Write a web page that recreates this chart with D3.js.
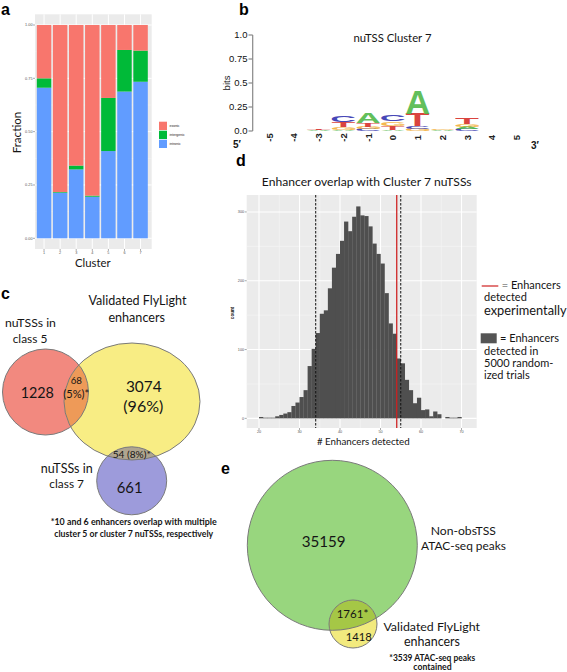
<!DOCTYPE html>
<html><head><meta charset="utf-8">
<script src="https://cdn.jsdelivr.net/npm/d3@7"></script>
<style>body{margin:0;background:#fff}svg{display:block}</style>
</head><body>
<svg id="fig" width="567" height="672"></svg>
<script>
// ---------------- DATA ----------------
// Panel a: genomic region fractions per cluster
const clusters = ["1","2","3","4","5","6","7"];
const regionNames = ["exonic","intergenic","intronic"];
const intronicFrac  = [0.706,0.214,0.323,0.195,0.409,0.688,0.734];
const intergenicFrac= [0.044,0.003,0.018,0.005,0.249,0.195,0.146];
const exonicFrac    = [0.250,0.783,0.659,0.800,0.342,0.117,0.120];
const fracTicks = [0,0.25,0.5,0.75,1];
const fracTickLabels = ["0.00","0.25","0.50","0.75","1.00"];

// Panel b: sequence logo (bits per base per position)
const logoPositions = [-5,-4,-3,-2,-1,0,1,2,3,4,5];
const logoA = [0,0,0.005,0.015,0.110,0.015,0.245,0.005,0.025,0,0];
const logoC = [0,0,0.005,0.070,0.020,0.070,0.030,0.004,0.020,0,0];
const logoG = [0,0,0.005,0.025,0.020,0.045,0.020,0.010,0.025,0,0];
const logoT = [0,0,0.012,0.055,0.040,0.040,0.130,0.005,0.070,0,0];
const bitsTicks = [0,0.25,0.5,0.75,1];
const bitsTickLabels = ["0.0","0.25","0.5","0.75","1.0"];

// Panel d: histogram of enhancers detected in 5000 randomized trials
const histBinStart = d3.range(20,71);
const histCounts = [2,1,1,1,3,5,7,9,18,23,31,41,76,101,124,152,157,189,219,239,258,286,272,293,308,295,294,279,254,239,225,182,138,123,87,80,56,41,22,30,12,13,3,10,6,0,2,1,1,2,0];
const observedEnhancers = 54;
const ciBounds = [34,55];
const histXTicks = [20,30,40,50,60,70];
const histYTicks = [0,100,200,300];

// Panel c: Venn counts
const vennCLabels = ["1228","68","(5%)*","3074","(96%)","54 (8%)*","661"];
// Panel e: Venn counts
const vennELabels = ["35159","1761*","1418"];

// ---------------- HELPERS ----------------
const FONT = "Lato, 'Open Sans', sans-serif";
const HELV = "'Liberation Sans', Arial, sans-serif";
const svg = d3.select("#fig");

function txt(g, s, x, y, o = {}) {
  const size = o.size || 10;
  const t = g.append("text").attr("x", x).attr("y", y).text(s)
    .attr("font-family", o.family || FONT).attr("font-size", size)
    .attr("text-anchor", o.anchor || "middle").attr("fill", o.fill || "#151515");
  if (o.weight) t.attr("font-weight", o.weight);
  if (o.rotate) t.attr("transform", `rotate(${o.rotate},${x},${y})`);
  if (o.width) {
    const L = t.node().getComputedTextLength();
    t.attr("font-size", size * o.width / L);
  }
  return t;
}

// ---------------- PANEL LABELS ----------------
[["a",1,15],["b",239,15],["c",1,299],["d",236,166],["e",221,474]].forEach(([s,x,y]) =>
  txt(svg, s, x, y, {family: HELV, weight: "bold", size: 16, anchor: "start", fill: "#000"}));

// ---------------- PANEL A ----------------
(function(){
  const g = svg.append("g");
  const x = d3.scaleBand().domain(clusters).range([36, 148.6]).paddingInner(0.1).paddingOuter(0.05);
  const y = d3.scaleLinear().domain([0,1]).range([238.3, 25]);
  const px0 = 35, px1 = 151.7, py0 = y(1.05), py1 = y(-0.05);
  g.append("rect").attr("x", px0).attr("y", py0).attr("width", px1-px0).attr("height", py1-py0).attr("fill", "#EBEBEB");
  [0.125,0.375,0.625,0.875].forEach(v => g.append("line").attr("x1",px0).attr("x2",px1).attr("y1",y(v)).attr("y2",y(v)).attr("stroke","#F5F5F5").attr("stroke-width",0.5));
  fracTicks.forEach(v => g.append("line").attr("x1",px0).attr("x2",px1).attr("y1",y(v)).attr("y2",y(v)).attr("stroke","#fff").attr("stroke-width",1));
  clusters.forEach(c => g.append("line").attr("x1",x(c)+x.bandwidth()/2).attr("x2",x(c)+x.bandwidth()/2).attr("y1",py0).attr("y2",py1).attr("stroke","#fff").attr("stroke-width",1));
  const colors = {exonic:"#F8766D", intergenic:"#00BA38", intronic:"#619CFF"};
  const rows = clusters.map((c,i) => ({c, intronic: intronicFrac[i], intergenic: intergenicFrac[i], exonic: exonicFrac[i]}));
  const stack = d3.stack().keys(["intronic","intergenic","exonic"])(rows);
  stack.forEach(layer => {
    g.selectAll(null).data(layer).enter().append("rect")
      .attr("x", d => x(d.data.c)).attr("width", x.bandwidth())
      .attr("y", d => y(d[1])).attr("height", d => y(d[0]) - y(d[1]))
      .attr("fill", colors[layer.key]);
  });
  // axes
  fracTicks.forEach((v,i) => {
    g.append("line").attr("x1",px0-2).attr("x2",px0).attr("y1",y(v)).attr("y2",y(v)).attr("stroke","#555").attr("stroke-width",0.5);
    txt(g, fracTickLabels[i], px0-2.5, y(v)+1.3, {size: 3.8, anchor: "end", fill: "#555", family: HELV});
  });
  clusters.forEach(c => {
    const cx = x(c)+x.bandwidth()/2;
    g.append("line").attr("x1",cx).attr("x2",cx).attr("y1",py1).attr("y2",py1+2).attr("stroke","#555").attr("stroke-width",0.5);
    txt(g, c, cx, py1+5.5, {size: 3.8, fill: "#555", family: HELV});
  });
  txt(g, "Cluster", 92.8, 266.7, {size: 13, width: 35.7});
  txt(g, "Fraction", 20.7, 132.5, {size: 13, width: 41.7, rotate: -90});
  // legend
  const ly = {exonic: 121.7, intergenic: 130.7, intronic: 139.7};
  regionNames.forEach(k => {
    g.append("rect").attr("x",159).attr("y",ly[k]).attr("width",8).attr("height",8.3).attr("fill",colors[k]);
    txt(g, k, 169.5, ly[k]+5.3, {size: 3.5, anchor: "start", family: HELV, fill: "#222"});
  });
})();

// ---------------- PANEL B (sequence logo) ----------------
(function(){
  const g = svg.append("g");
  const x = d3.scaleLinear().domain([-5,5]).range([269.3, 516.7]);
  const y = d3.scaleLinear().domain([0,1]).range([131, 35]);
  const step = x(1) - x(0);
  g.append("line").attr("x1",252.7).attr("x2",252.7).attr("y1",y(0)).attr("y2",y(1)).attr("stroke","#888").attr("stroke-width",1.2);
  bitsTicks.forEach((v,i) => {
    g.append("line").attr("x1",248.5).attr("x2",252.7).attr("y1",y(v)).attr("y2",y(v)).attr("stroke","#888").attr("stroke-width",1.2);
    txt(g, bitsTickLabels[i], 247.5, y(v)+3.4, {size: 9.5, anchor: "end", family: HELV, fill: "#111"});
  });
  txt(g, "bits", 230, 83, {size: 9.5, family: HELV, rotate: -90});
  txt(g, "nuTSS Cluster 7", 392.5, 41.7, {size: 10, width: 78});
  logoPositions.forEach(p => {
    txt(g, String(p), x(p)+3.3, 137.5, {size: 9.5, family: HELV, rotate: -90, weight: "bold", fill: "#222"});
  });
  txt(g, "5\u2032", 233, 148, {size: 10, family: HELV, anchor: "start", weight: "bold"});
  txt(g, "3\u2032", 531, 149, {size: 10, family: HELV, anchor: "start", weight: "bold"});
  const cvs = document.createElement("canvas").getContext("2d");
  cvs.font = "bold 100px 'Liberation Sans'";
  const letterColors = {A:"#52B94A", C:"#3434B0", G:"#F3B13C", T:"#D7302B"};
  const letterData = {A: logoA, C: logoC, G: logoG, T: logoT};
  logoPositions.forEach((p,i) => {
    const stackL = ["A","C","G","T"].map(k => ({k, h: letterData[k][i]})).filter(d => d.h > 0).sort((a,b) => a.h - b.h);
    let base = 0;
    stackL.forEach(d => {
      const top = base + d.h;
      const h = y(base) - y(top);
      const w = step*0.95;
      const x0 = x(p) - w/2;
      const m = cvs.measureText(d.k);
      const gw = m.actualBoundingBoxLeft + m.actualBoundingBoxRight;
      const gh = m.actualBoundingBoxAscent + m.actualBoundingBoxDescent;
      g.append("text").text(d.k).attr("font-family", HELV).attr("font-weight","bold").attr("font-size",100)
        .attr("fill", letterColors[d.k]).attr("opacity", 0.9)
        .attr("transform", `translate(${x0},${y(top)}) scale(${w/gw},${h/gh}) translate(${m.actualBoundingBoxLeft},${m.actualBoundingBoxAscent})`);
      base = top;
    });
  });
})();

// ---------------- PANEL D (histogram) ----------------
(function(){
  const g = svg.append("g");
  const x = d3.scaleLinear().domain([16.96, 73.75]).range([246.7, 476.7]);
  const y = d3.scaleLinear().domain([-14, 324.6]).range([428, 195]);
  const [px0, px1] = x.range(), py0 = y(324.6), py1 = y(-14);
  g.append("rect").attr("x",px0).attr("y",py0).attr("width",px1-px0).attr("height",py1-py0).attr("fill","#EBEBEB");
  [25,35,45,55,65].forEach(v => g.append("line").attr("x1",x(v)).attr("x2",x(v)).attr("y1",py0).attr("y2",py1).attr("stroke","#F7F7F7").attr("stroke-width",0.6));
  [50,150,250].forEach(v => g.append("line").attr("x1",px0).attr("x2",px1).attr("y1",y(v)).attr("y2",y(v)).attr("stroke","#F7F7F7").attr("stroke-width",0.6));
  histXTicks.forEach(v => g.append("line").attr("x1",x(v)).attr("x2",x(v)).attr("y1",py0).attr("y2",py1).attr("stroke","#fff").attr("stroke-width",1.1));
  histYTicks.forEach(v => g.append("line").attr("x1",px0).attr("x2",px1).attr("y1",y(v)).attr("y2",y(v)).attr("stroke","#fff").attr("stroke-width",1.1));
  g.selectAll(null).data(histBinStart.map((b,i) => ({b, c: histCounts[i]}))).enter().append("rect")
    .attr("x", d => x(d.b)).attr("width", d => x(d.b+1) - x(d.b) + 0.2)
    .attr("y", d => y(d.c)).attr("height", d => y(0) - y(d.c)).attr("fill", "#4F4F4F");
  ciBounds.forEach(v => g.append("line").attr("x1",x(v)).attr("x2",x(v)).attr("y1",py0).attr("y2",py1)
    .attr("stroke","#111").attr("stroke-width",1).attr("stroke-dasharray","2.5,1.5"));
  g.append("line").attr("x1",x(observedEnhancers)).attr("x2",x(observedEnhancers)).attr("y1",py0).attr("y2",py1)
    .attr("stroke","#CF2020").attr("stroke-width",1.4).attr("opacity",0.9);
  histYTicks.forEach(v => {
    g.append("line").attr("x1",px0-2).attr("x2",px0).attr("y1",y(v)).attr("y2",y(v)).attr("stroke","#555").attr("stroke-width",0.5);
    txt(g, String(v), px0-2.5, y(v)+1.3, {size: 3.8, anchor: "end", fill: "#555", family: HELV});
  });
  histXTicks.forEach(v => {
    g.append("line").attr("x1",x(v)).attr("x2",x(v)).attr("y1",py1).attr("y2",py1+2).attr("stroke","#555").attr("stroke-width",0.5);
    txt(g, String(v), x(v), py1+5.3, {size: 3.8, fill: "#555", family: HELV});
  });
  txt(g, "count", 233.5, 313, {size: 4.5, family: HELV, rotate: -90, weight: "bold"});
  txt(g, "Enhancer overlap with Cluster 7 nuTSSs", 366.7, 186, {size: 12, width: 210});
  txt(g, "# Enhancers detected", 363.3, 445, {size: 10, width: 93});
  // legend
  g.append("line").attr("x1",481.7).attr("x2",498.3).attr("y1",286).attr("y2",286).attr("stroke","#CF2020").attr("stroke-width",1.2);
  const t1 = g.append("text").attr("x",501.7).attr("y",289.3).attr("font-family",FONT).attr("font-size",11).attr("fill","#151515");
  t1.append("tspan").attr("fill","#999").text("= ");
  t1.append("tspan").text("Enhancers");
  txt(g, "detected", 484, 301, {size: 11, anchor: "start"});
  txt(g, "experimentally", 484, 315, {size: 11, anchor: "start", width: 82.7});
  g.append("rect").attr("x",480.7).attr("y",333.3).attr("width",16).attr("height",10).attr("fill","#555");
  txt(g, "= Enhancers", 500, 341.7, {size: 11, anchor: "start"});
  txt(g, "detected in", 484, 355, {size: 11, anchor: "start"});
  txt(g, "5000 random-", 484, 366.7, {size: 11, anchor: "start"});
  txt(g, "ized trials", 484, 379.3, {size: 11, anchor: "start"});
})();

// ---------------- PANEL C (Venn) ----------------
(function(){
  const g = svg.append("g");
  const defs = svg.append("defs");
  const L = {
    red:    {cx: 45.5, cy: 392, rx: 43, ry: 43},
    yellow: {cx: 132, cy: 401.5, rx: 68, ry: 58.5},
    purple: {cx: 131.7, cy: 480.8, rx: 35, ry: 34}
  };
  const ell = (sel, e) => sel.append("ellipse").attr("cx",e.cx).attr("cy",e.cy).attr("rx",e.rx).attr("ry",e.ry);
  ell(defs.append("clipPath").attr("id","clipYellowC"), L.yellow);
  ell(g, L.red).attr("fill","#F2897F");
  ell(g, L.yellow).attr("fill","#F8ED84");
  ell(g, L.purple).attr("fill","#9D9BDB");
  ell(g, L.red).attr("fill","#EE9A58").attr("clip-path","url(#clipYellowC)");
  ell(g, L.purple).attr("fill","#B0A58F").attr("clip-path","url(#clipYellowC)");
  [L.red, L.yellow, L.purple].forEach(e => ell(g, e).attr("fill","none").attr("stroke","#7A7A7A").attr("stroke-width",1));
  txt(g, "nuTSSs in", 30.5, 327.3, {size: 14, width: 51});
  txt(g, "class 5", 30, 342.7, {size: 14, width: 34.7});
  txt(g, "Validated FlyLight", 137.5, 305, {size: 14, width: 98});
  txt(g, "enhancers", 136.7, 321.7, {size: 14, width: 56.7});
  txt(g, vennCLabels[0], 37.3, 398.3, {size: 20, width: 33.3});
  txt(g, vennCLabels[1], 76.3, 384.3, {size: 11, width: 11.3});
  txt(g, vennCLabels[2], 76.3, 398.3, {size: 11, width: 26});
  txt(g, vennCLabels[3], 143.8, 391.7, {size: 20, width: 35.7});
  txt(g, vennCLabels[4], 143.3, 411.7, {size: 20, width: 40});
  txt(g, vennCLabels[5], 131.7, 458.3, {size: 11, width: 38});
  txt(g, vennCLabels[6], 129.7, 492.7, {size: 20, width: 26});
  txt(g, "nuTSSs in", 66.7, 472.7, {size: 14, width: 52});
  txt(g, "class 7", 66.7, 488.3, {size: 14, width: 34.7});
  txt(g, "*10 and 6 enhancers overlap with multiple", 133.7, 525.3, {size: 9, width: 166, weight: "bold"});
  txt(g, "cluster 5 or cluster 7 nuTSSs, respectively", 133.7, 536.7, {size: 9, width: 159.3, weight: "bold"});
})();

// ---------------- PANEL E (Venn) ----------------
(function(){
  const g = svg.append("g");
  const defs = svg.append("defs");
  const L = {
    green:  {cx: 332.3, cy: 545.3, r: 85},
    yellow: {cx: 353, cy: 624, r: 24}
  };
  const circ = (sel, c) => sel.append("circle").attr("cx",c.cx).attr("cy",c.cy).attr("r",c.r);
  circ(defs.append("clipPath").attr("id","clipGreenE"), L.green);
  circ(g, L.green).attr("fill","#98D67E");
  circ(g, L.yellow).attr("fill","#F2EA7E");
  circ(g, L.yellow).attr("fill","#A5C746").attr("clip-path","url(#clipGreenE)");
  [L.green, L.yellow].forEach(c => circ(g, c).attr("fill","none").attr("stroke","#7A7A7A").attr("stroke-width",1));
  txt(g, vennELabels[0], 323.7, 546.7, {size: 20, width: 44});
  txt(g, vennELabels[1], 352.5, 618.3, {size: 14, width: 31.7});
  txt(g, vennELabels[2], 358.7, 641, {size: 14, width: 26});
  txt(g, "Non-obsTSS", 463.3, 535, {size: 14, width: 65.3});
  txt(g, "ATAC-seq peaks", 463.5, 550, {size: 14, width: 85});
  txt(g, "Validated FlyLight", 431.7, 631, {size: 14, width: 96.7});
  txt(g, "enhancers", 432, 645.7, {size: 14, width: 56});
  txt(g, "*3539 ATAC-seq peaks", 432.3, 660.7, {size: 9, width: 86, weight: "bold"});
  txt(g, "contained", 432.5, 670, {size: 9, width: 38.3, weight: "bold"});
})();
</script>
</body></html>
